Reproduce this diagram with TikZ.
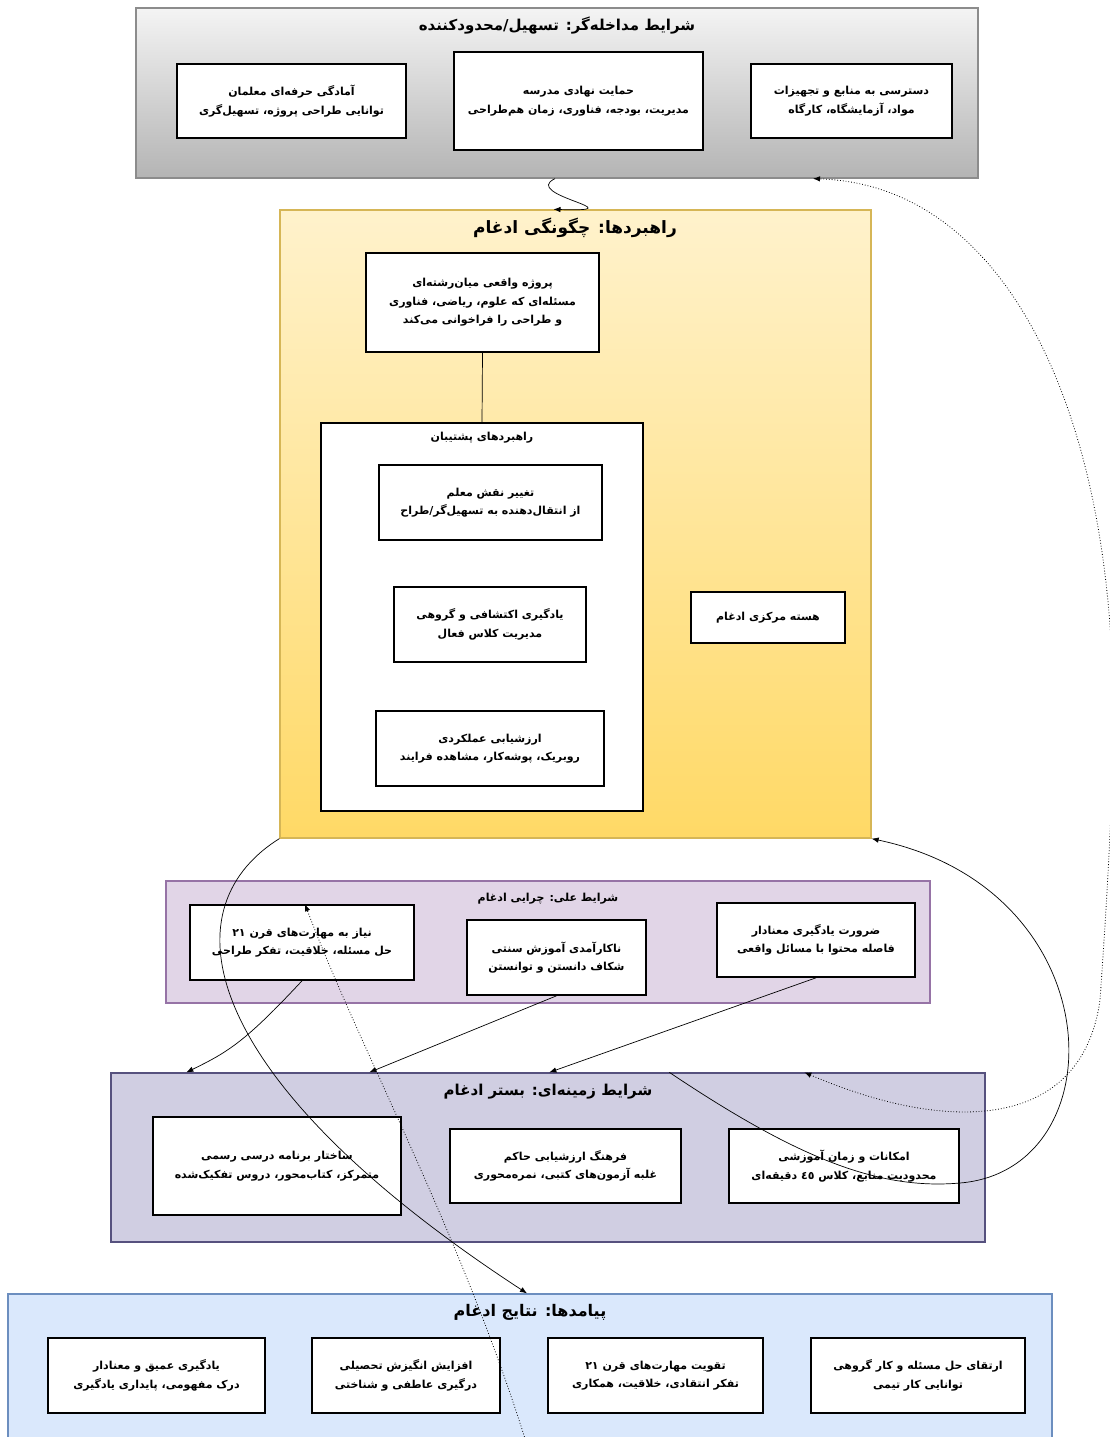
\documentclass[tikz,border=0pt]{standalone}
\usepackage{fontspec}
\setmainfont{DejaVu Sans}
\newfontfamily\fafont[Script=Arabic]{DejaVu Sans}
\TeXXeTstate=1
\usetikzlibrary{arrows.meta,calc}
\newcommand{\rl}[1]{\leavevmode\beginR #1\endR}
\definecolor{grayT}{HTML}{F4F4F4}
\definecolor{grayB}{HTML}{B4B4B4}
\definecolor{grayD}{HTML}{8C8C8C}
\definecolor{yelT}{HTML}{FFF2CC}
\definecolor{yelB}{HTML}{FFD966}
\definecolor{yelD}{HTML}{D6B656}
\definecolor{purF}{HTML}{E1D5E7}
\definecolor{purD}{HTML}{9673A6}
\definecolor{ctxF}{HTML}{D0CEE2}
\definecolor{ctxD}{HTML}{56517E}
\definecolor{outF}{HTML}{DAE8FC}
\definecolor{outD}{HTML}{6C8EBF}
\begin{document}
\begin{tikzpicture}[x=1pt,y=-1pt,
  panel/.style={line width=1.3pt, inner sep=0pt},
  box/.style={draw=black, line width=1.6pt, fill=white, align=center, inner sep=0pt,
    font=\fafont\bfseries\fontsize{11}{18.5}\selectfont},
  ttl/.style={font=\fafont\bfseries\fontsize{15}{18}\selectfont, inner sep=0pt},
  sttl/.style={font=\fafont\bfseries\fontsize{11}{14}\selectfont, inner sep=0pt},
  arr/.style={-{Latex[length=7pt,width=5.5pt]}, line width=0.7pt},
  dotarr/.style={{Latex[length=7pt,width=5.5pt]}-{Latex[length=7pt,width=5.5pt]}, line width=0.8pt, dotted},
  dotone/.style={-{Latex[length=7pt,width=5.5pt]}, line width=0.8pt, dotted}]
\useasboundingbox (0,0) rectangle (1110,1437);
\clip (0,0) rectangle (1110,1437);

% ---------- panels ----------
\node[panel, draw=grayD, top color=grayT, bottom color=grayB, minimum width=842pt, minimum height=170pt] (top) at (557,93) {};
\node[panel, draw=yelD, top color=yelT, bottom color=yelB, minimum width=591pt, minimum height=628pt] (strat) at (575.5,524) {};
\node[panel, draw=purD, fill=purF, minimum width=764pt, minimum height=122pt] (cause) at (548,942) {};
\node[panel, draw=ctxD, fill=ctxF, minimum width=874pt, minimum height=169pt] (ctx) at (548,1157.5) {};
\node[panel, draw=outD, fill=outF, minimum width=1044pt, minimum height=190pt] (out) at (530,1389) {};

% ---------- titles ----------
\node[ttl] (ttop) at (557,26) {\rl{شرایط مداخله‌گر: تسهیل/محدودکننده}};
\node[ttl, font=\fafont\bfseries\fontsize{17}{20}\selectfont] (tstrat) at (575,228) {\rl{راهبردها: چگونگی ادغام}};
\node[sttl] (tcause) at (548,899) {\rl{شرایط علی: چرایی ادغام}};
\node[ttl] (tctx) at (548,1092) {\rl{شرایط زمینه‌ای: بستر ادغام}};
\node[ttl, font=\fafont\bfseries\fontsize{16}{19}\selectfont] (tout) at (530,1312) {\rl{پیامدها: نتایج ادغام}};

% ---------- top boxes ----------
\node[box, minimum width=229pt, minimum height=74pt] (t1) at (291.5,101) {\rl{آمادگی حرفه‌ای معلمان}\\\rl{توانایی طراحی پروژه، تسهیل‌گری}};
\node[box, minimum width=249pt, minimum height=98pt] (t2) at (578.5,101) {\rl{حمایت نهادی مدرسه}\\\rl{مدیریت، بودجه، فناوری، زمان هم‌طراحی}};
\node[box, minimum width=201pt, minimum height=74pt] (t3) at (851.5,101) {\rl{دسترسی به منابع و تجهیزات}\\\rl{مواد، آزمایشگاه، کارگاه}};

% ---------- strategies ----------
\node[box, minimum width=233pt, minimum height=99pt] (proj) at (482.5,302.5) {\rl{پروژه واقعی میان‌رشته‌ای}\\\rl{مسئله‌ای که علوم، ریاضی، فناوری}\\\rl{و طراحی را فراخوانی می‌کند}};
\node[box, minimum width=322pt, minimum height=388pt] (supp) at (482,617) {};
\node[sttl] (tsupp) at (482,438) {\rl{راهبردهای پشتیبان}};
\node[box, minimum width=223pt, minimum height=75pt] (s1) at (490.5,502.5) {\rl{تغییر نقش معلم}\\\rl{از انتقال‌دهنده به تسهیل‌گر/طراح}};
\node[box, minimum width=192pt, minimum height=75pt] (s2) at (490,624.5) {\rl{یادگیری اکتشافی و گروهی}\\\rl{مدیریت کلاس فعال}};
\node[box, minimum width=228pt, minimum height=75pt] (s3) at (490,748.5) {\rl{ارزشیابی عملکردی}\\\rl{روبریک، پوشه‌کار، مشاهده فرایند}};
\node[box, minimum width=154pt, minimum height=51pt] (core) at (768,617.5) {\rl{هسته مرکزی ادغام}};

% ---------- causal ----------
\node[box, minimum width=224pt, minimum height=75pt] (c1) at (302,942.5) {\rl{نیاز به مهارت‌های قرن ٢١}\\\rl{حل مسئله، خلاقیت، تفکر طراحی}};
\node[box, minimum width=179pt, minimum height=75pt] (c2) at (556.5,957.5) {\rl{ناکارآمدی آموزش سنتی}\\\rl{شکاف دانستن و توانستن}};
\node[box, minimum width=198pt, minimum height=74pt] (c3) at (816,940) {\rl{ضرورت یادگیری معنادار}\\\rl{فاصله محتوا با مسائل واقعی}};

% ---------- context ----------
\node[box, minimum width=248pt, minimum height=98pt] (x1) at (277,1166) {\rl{ساختار برنامه درسی رسمی}\\\rl{متمرکز، کتاب‌محور، دروس تفکیک‌شده}};
\node[box, minimum width=231pt, minimum height=74pt] (x2) at (565.5,1166) {\rl{فرهنگ ارزشیابی حاکم}\\\rl{غلبه آزمون‌های کتبی، نمره‌محوری}};
\node[box, minimum width=230pt, minimum height=74pt] (x3) at (844,1166) {\rl{امکانات و زمان آموزشی}\\\rl{محدودیت منابع، کلاس ٤٥ دقیقه‌ای}};

% ---------- outcomes ----------
\node[box, minimum width=217pt, minimum height=75pt] (o1) at (156.5,1375.5) {\rl{یادگیری عمیق و معنادار}\\\rl{درک مفهومی، پایداری یادگیری}};
\node[box, minimum width=188pt, minimum height=75pt] (o2) at (406,1375.5) {\rl{افزایش انگیزش تحصیلی}\\\rl{درگیری عاطفی و شناختی}};
\node[box, minimum width=215pt, minimum height=75pt] (o3) at (655.5,1375.5) {\rl{تقویت مهارت‌های قرن ٢١}\\\rl{تفکر انتقادی، خلاقیت، همکاری}};
\node[box, minimum width=214pt, minimum height=75pt] (o4) at (918,1375.5) {\rl{ارتقای حل مسئله و کار گروهی}\\\rl{توانایی کار تیمی}};

% ---------- connectors ----------
\draw[line width=0.7pt] (proj.south) -- (supp.north);

\draw[arr] ([xshift=-2pt]top.south) .. controls (520,195) and (640,212) .. ([xshift=-22pt]strat.north);

\draw[arr] (strat.south west) .. controls (165,910) and (200,1080) .. ([xshift=-3pt]out.north);

\draw[arr] (c1.south) .. controls (245,1042) and (228,1052) .. ([xshift=76pt]ctx.north west);
\draw[arr] (c2.south) -- ([xshift=259pt]ctx.north west);
\draw[arr] (c3.south) -- ([xshift=439pt]ctx.north west);

\draw[arr] ([xshift=559pt]ctx.north west) .. controls (800,1160) and (880,1190) .. (960,1183)
  .. controls (1118,1170) and (1115,890) .. (strat.south east);

\coordinate (dsrc) at (527,1445);
\draw[dotone] (dsrc) .. controls (460,1230) and (360,1050) .. ([xshift=3pt]c1.north);

\draw[dotarr] ([xshift=694pt]ctx.north west) .. controls (950,1135) and (1082,1130) .. (1100,1000)
  .. controls (1107,900) and (1113,800) .. (1113,710)
  .. controls (1113,420) and (1010,185) .. ([xshift=256pt]top.south);
\end{tikzpicture}
\end{document}
